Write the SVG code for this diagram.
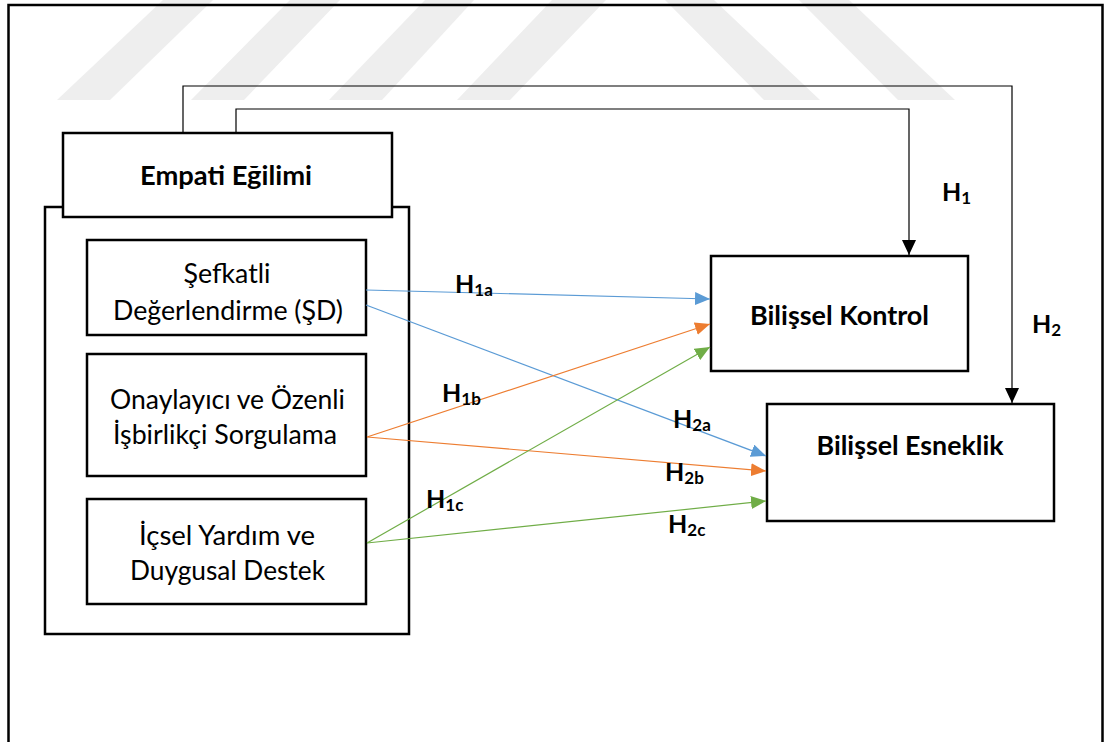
<svg xmlns="http://www.w3.org/2000/svg" width="1109" height="742" viewBox="0 0 1109 742">
<style>
.wm{fill:#eeeeee;stroke:none}
.frame{fill:none;stroke:#000;stroke-width:2.5}
.box{fill:#fff;stroke:#000;stroke-width:2.5}
.t{font-family:Lato,"Liberation Sans",sans-serif;font-size:27px;fill:#000;text-anchor:middle}
.b{font-weight:bold}
.h{font-family:Lato,"Liberation Sans",sans-serif;font-size:25px;font-weight:bold;fill:#000}
.sub{font-size:17px}
.c{fill:none;stroke-width:1.2}
.blue{stroke:#5b9bd5}
.orange{stroke:#ed7d31}
.green{stroke:#70ad47}
.black{stroke:#000}
</style>
<defs>
<marker id="ab" viewBox="0 0 15 13" refX="15" refY="6.5" markerWidth="15" markerHeight="13" orient="auto" markerUnits="userSpaceOnUse"><path d="M0,0 L15,6.5 L0,13 z" fill="#5b9bd5"/></marker>
<marker id="ao" viewBox="0 0 15 13" refX="15" refY="6.5" markerWidth="15" markerHeight="13" orient="auto" markerUnits="userSpaceOnUse"><path d="M0,0 L15,6.5 L0,13 z" fill="#ed7d31"/></marker>
<marker id="ag" viewBox="0 0 15 13" refX="15" refY="6.5" markerWidth="15" markerHeight="13" orient="auto" markerUnits="userSpaceOnUse"><path d="M0,0 L15,6.5 L0,13 z" fill="#70ad47"/></marker>
<marker id="ak" viewBox="0 0 15 14" refX="15" refY="7" markerWidth="15" markerHeight="14" orient="auto" markerUnits="userSpaceOnUse"><path d="M0,0 L15,7 L0,14 z" fill="#000"/></marker>
</defs>
<rect x="0" y="0" width="1109" height="742" fill="#fff"/>
<g id="watermark">
<polygon class="wm" points="57,100 110,100 213,0 163,0"/>
<polygon class="wm" points="191,100 244,100 340,0 290,0"/>
<polygon class="wm" points="329,100 382,100 474,0 425,0"/>
<polygon class="wm" points="457,100 510,100 606,0 552,0"/>
<polygon class="wm" points="665,0 714,0 820,100 764,100"/>
<polygon class="wm" points="799,0 849,0 955,100 898,100"/>
</g>
<path class="frame" d="M8.5,745 V5 H1102.5 V745"/>
<g id="empati-group">
<rect class="box" x="45" y="207" width="364" height="427"/>
</g>
<g id="empati-egilimi">
<rect class="box" x="63" y="133" width="329" height="84"/>
<text class="t b" x="226" y="185" textLength="172" lengthAdjust="spacingAndGlyphs">Empati Eğilimi</text>
</g>
<g id="sefkatli">
<rect class="box" x="87" y="240" width="279" height="95"/>
<text class="t" x="227" y="283" textLength="87" lengthAdjust="spacingAndGlyphs">Şefkatli</text>
<text class="t" x="228" y="320" textLength="230" lengthAdjust="spacingAndGlyphs">Değerlendirme (ŞD)</text>
</g>
<g id="onaylayici">
<rect class="box" x="87" y="354" width="279" height="122"/>
<text class="t" x="227.5" y="409" textLength="235" lengthAdjust="spacingAndGlyphs">Onaylayıcı ve Özenli</text>
<text class="t" x="225" y="444" textLength="224" lengthAdjust="spacingAndGlyphs">İşbirlikçi Sorgulama</text>
</g>
<g id="icsel">
<rect class="box" x="87" y="499" width="279" height="105"/>
<text class="t" x="227" y="545" textLength="176" lengthAdjust="spacingAndGlyphs">İçsel Yardım ve</text>
<text class="t" x="227.5" y="580" textLength="195" lengthAdjust="spacingAndGlyphs">Duygusal Destek</text>
</g>
<g id="bilissel-kontrol">
<rect class="box" x="711" y="256" width="257" height="115"/>
<text class="t b" x="839.5" y="325" textLength="179" lengthAdjust="spacingAndGlyphs">Bilişsel Kontrol</text>
</g>
<g id="bilissel-esneklik">
<rect class="box" x="767" y="404" width="287" height="117"/>
<text class="t b" x="910" y="455" textLength="187" lengthAdjust="spacingAndGlyphs">Bilişsel Esneklik</text>
</g>
<g id="connectors">
<path class="c black" d="M236,133 V109 H909 V255" marker-end="url(#ak)"/>
<path class="c black" d="M183,133 V86 H1012 V403" marker-end="url(#ak)"/>
<line class="c blue" x1="366" y1="290" x2="710" y2="299" marker-end="url(#ab)"/>
<line class="c blue" x1="366" y1="305" x2="766" y2="456" marker-end="url(#ab)"/>
<line class="c orange" x1="367" y1="437" x2="710" y2="324" marker-end="url(#ao)"/>
<line class="c orange" x1="367" y1="437" x2="766" y2="471" marker-end="url(#ao)"/>
<line class="c green" x1="367" y1="543" x2="710" y2="347" marker-end="url(#ag)"/>
<line class="c green" x1="367" y1="543" x2="766" y2="501" marker-end="url(#ag)"/>
</g>
<g id="labels">
<text class="h" x="942" y="201">H<tspan class="sub" dy="3">1</tspan></text>
<text class="h" x="1032" y="333">H<tspan class="sub" dy="3">2</tspan></text>
<text class="h" x="455" y="293">H<tspan class="sub" dy="3">1a</tspan></text>
<text class="h" x="442" y="402">H<tspan class="sub" dy="3">1b</tspan></text>
<text class="h" x="426" y="508">H<tspan class="sub" dy="3">1c</tspan></text>
<text class="h" x="673" y="428">H<tspan class="sub" dy="3">2a</tspan></text>
<text class="h" x="665" y="481">H<tspan class="sub" dy="3">2b</tspan></text>
<text class="h" x="668" y="533">H<tspan class="sub" dy="3">2c</tspan></text>
</g>
</svg>
